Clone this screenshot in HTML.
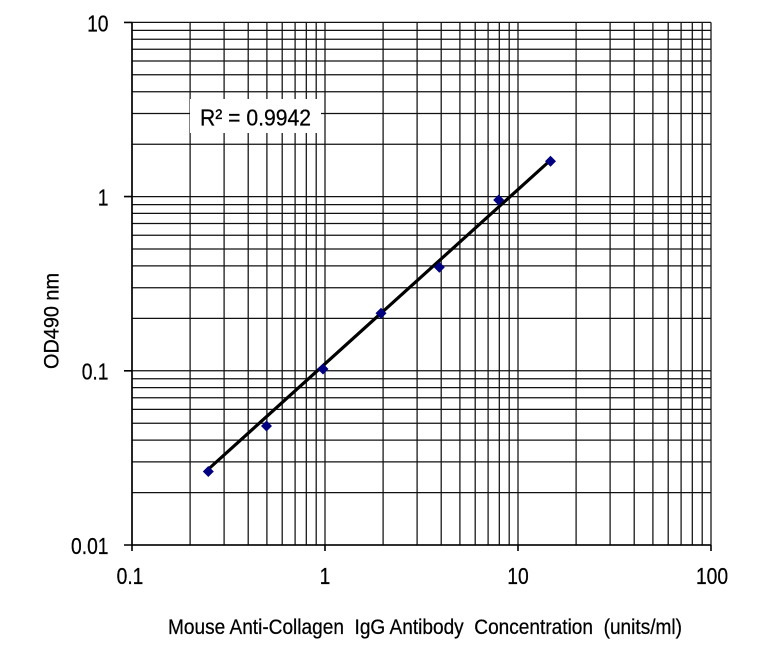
<!DOCTYPE html>
<html>
<head>
<meta charset="utf-8">
<style>
html,body{margin:0;padding:0;background:#fff;}
svg{display:block;}
text{font-family:"Liberation Sans",Arial,sans-serif;fill:#000;stroke:#000;stroke-width:0.25;}
</style>
</head>
<body>
<svg width="781" height="658" viewBox="0 0 781 658" xmlns="http://www.w3.org/2000/svg">
<rect x="0" y="0" width="781" height="658" fill="#fff"/>
<path stroke="#111" stroke-width="1.25" fill="none" d="
M132 22.4V545 M190.1 22.4V545 M224.1 22.4V545 M248.2 22.4V545 M266.9 22.4V545
M282.2 22.4V545 M295.1 22.4V545 M306.3 22.4V545 M316.2 22.4V545 M325 22.4V545
M383.1 22.4V545 M417.1 22.4V545 M441.2 22.4V545 M459.9 22.4V545 M475.2 22.4V545
M488.1 22.4V545 M499.3 22.4V545 M509.2 22.4V545 M518 22.4V545
M576.1 22.4V545 M610.1 22.4V545 M634.2 22.4V545 M652.9 22.4V545 M668.2 22.4V545
M681.1 22.4V545 M692.3 22.4V545 M702.2 22.4V545 M711 22.4V545
M132 545H711 M132 492.6H711 M132 461.9H711 M132 440.1H711 M132 423.2H711
M132 409.4H711 M132 397.7H711 M132 387.6H711 M132 378.8H711 M132 370.8H711
M132 318.4H711 M132 287.7H711 M132 265.9H711 M132 249H711 M132 235.2H711
M132 223.5H711 M132 213.4H711 M132 204.6H711 M132 196.6H711
M132 144.2H711 M132 113.5H711 M132 91.7H711 M132 74.8H711 M132 61H711
M132 49.3H711 M132 39.2H711 M132 30.4H711 M132 22.4H711"/>
<path stroke="#000" stroke-width="1.6" fill="none" d="
M132 22.4V551 M124 545H711 M124 22.4H132 M124 196.6H132 M124 370.8H132
M325 545V551 M518 545V551 M711 545V551"/>
<rect x="190" y="99" width="131" height="34" fill="#fff"/>
<text x="200" y="125.5" font-size="23" textLength="111" lengthAdjust="spacingAndGlyphs">R² = 0.9942</text>
<line x1="208" y1="469.5" x2="549" y2="161.5" stroke="#000" stroke-width="3.2" stroke-linecap="round"/>
<path fill="#000080" d="
M208.3 466l5.5 5.5-5.5 5.5-5.5-5.5z
M266.5 420.5l5.5 5.5-5.5 5.5-5.5-5.5z
M323 363.5l5.5 5.5-5.5 5.5-5.5-5.5z
M381 307.8l5.5 5.5-5.5 5.5-5.5-5.5z
M439.3 261.8l5.5 5.5-5.5 5.5-5.5-5.5z
M498.7 194.5l5.5 5.5-5.5 5.5-5.5-5.5z
M550.5 155.8l5.5 5.5-5.5 5.5-5.5-5.5z"/>
<g font-size="23.5" text-anchor="end">
<text transform="translate(108.5,31.5) scale(0.82,1)">10</text>
<text transform="translate(108.5,205.5) scale(0.82,1)">1</text>
<text transform="translate(108.5,379.5) scale(0.82,1)">0.1</text>
<text transform="translate(108.5,553.8) scale(0.82,1)">0.01</text>
</g>
<g font-size="23.5" text-anchor="middle">
<text transform="translate(130,584) scale(0.82,1)">0.1</text>
<text transform="translate(325,584) scale(0.82,1)">1</text>
<text transform="translate(518,584) scale(0.82,1)">10</text>
<text transform="translate(712,584) scale(0.82,1)">100</text>
</g>
<text x="168" y="634" font-size="21.5" textLength="514" lengthAdjust="spacingAndGlyphs" style="white-space:pre">Mouse Anti-Collagen  IgG Antibody  Concentration  (units/ml)</text>
<text transform="translate(58.5,321) rotate(-90)" font-size="21.5" text-anchor="middle" textLength="96" lengthAdjust="spacingAndGlyphs">OD490 nm</text>
</svg>
</body>
</html>
